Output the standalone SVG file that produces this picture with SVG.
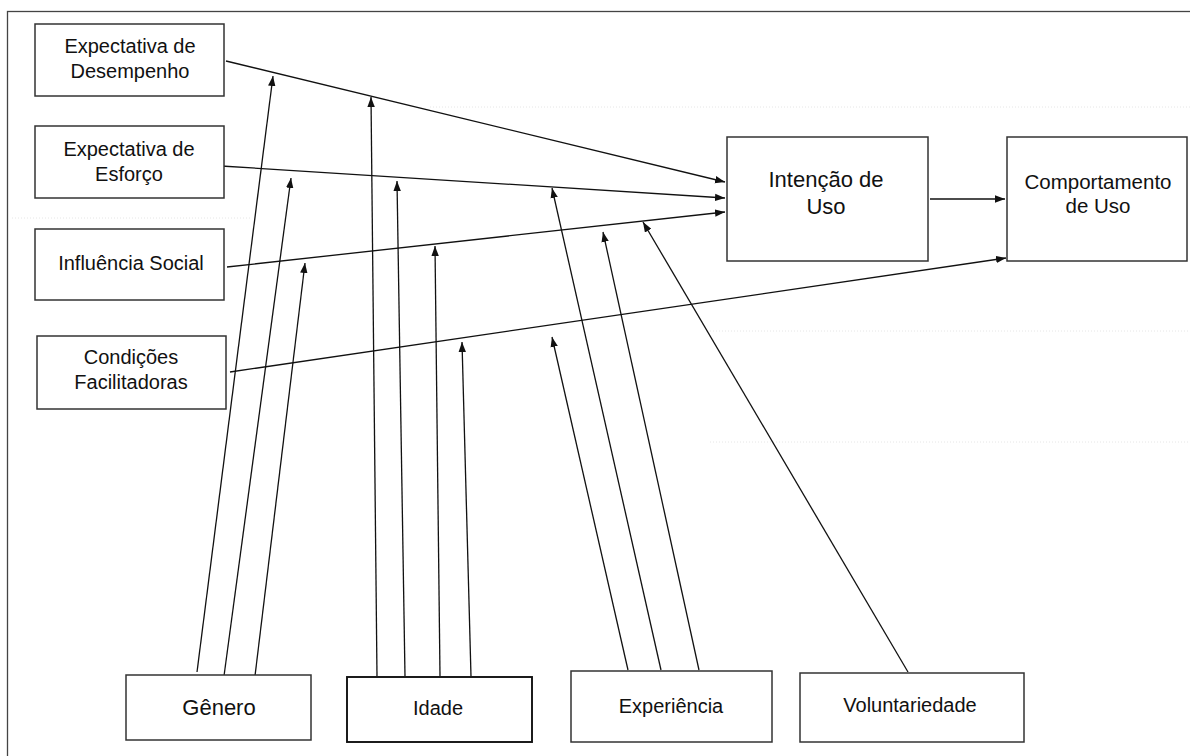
<svg xmlns="http://www.w3.org/2000/svg" width="1190" height="756" viewBox="0 0 1190 756">
<style>
.box{fill:#fff;stroke:#333;stroke-width:1.5}
.t{font-family:"Liberation Sans",Arial,sans-serif;font-size:20px;fill:#111;text-anchor:middle}
.c{fill:none;stroke:#111;stroke-width:1.3}
.grid{stroke:#e6e6e6;stroke-width:1;stroke-dasharray:1 2}
</style>
<defs>
<marker id="ah" markerUnits="userSpaceOnUse" markerWidth="11" markerHeight="8" refX="10" refY="4" orient="auto">
<path d="M0,0.3 L10,4 L0,7.7 Z" fill="#111"/>
</marker>
</defs>
<rect x="0" y="0" width="1190" height="756" fill="#fff"/>
<g id="grid">
<line class="grid" x1="430" y1="107" x2="1190" y2="107"/>
<line class="grid" x1="12" y1="218" x2="250" y2="218"/>
<line class="grid" x1="710" y1="331" x2="1190" y2="331"/>
<line class="grid" x1="710" y1="442" x2="1190" y2="442"/>
</g>
<rect id="frame" x="7.5" y="11.5" width="1200" height="760" fill="none" stroke="#444" stroke-width="1.3"/>

<g id="connectors">
<path class="c" marker-end="url(#ah)" d="M226,61 L725,182"/>
<path class="c" marker-end="url(#ah)" d="M221,166 L725,198"/>
<path class="c" marker-end="url(#ah)" d="M227,267 L725,212"/>
<path class="c" marker-end="url(#ah)" d="M230,372 L1006,258"/>
<path class="c" marker-end="url(#ah)" d="M930,199 L1005,199"/>
<path class="c" marker-end="url(#ah)" d="M197,672 L273,76"/>
<path class="c" marker-end="url(#ah)" d="M224,676 L291,178"/>
<path class="c" marker-end="url(#ah)" d="M255,676 L305,263"/>
<path class="c" marker-end="url(#ah)" d="M377,676 L371,97"/>
<path class="c" marker-end="url(#ah)" d="M405,676 L397,181"/>
<path class="c" marker-end="url(#ah)" d="M440,676 L435,246"/>
<path class="c" marker-end="url(#ah)" d="M471,676 L462,342"/>
<path class="c" marker-end="url(#ah)" d="M628,670 L552,337"/>
<path class="c" marker-end="url(#ah)" d="M661,670 L552,188"/>
<path class="c" marker-end="url(#ah)" d="M699,670 L603,232"/>
<path class="c" marker-end="url(#ah)" d="M908,672 L643,222"/>
</g>

<g id="desempenho">
<rect class="box" x="35" y="24" width="189" height="72"/>
<text class="t" x="130" y="53">Expectativa de</text>
<text class="t" x="130" y="78">Desempenho</text>
</g>
<g id="esforco">
<rect class="box" x="35" y="126" width="189" height="72"/>
<text class="t" x="129" y="156">Expectativa de</text>
<text class="t" x="129" y="181">Esforço</text>
</g>
<g id="influencia">
<rect class="box" x="35" y="229" width="189" height="71"/>
<text class="t" x="131" y="270">Influência Social</text>
</g>
<g id="condicoes">
<rect class="box" x="37" y="336" width="189" height="73"/>
<text class="t" x="131" y="364">Condições</text>
<text class="t" x="131" y="389">Facilitadoras</text>
</g>
<g id="intencao">
<rect class="box" x="727" y="137" width="201" height="124"/>
<text class="t" x="826" y="187" style="font-size:22px">Intenção de</text>
<text class="t" x="826" y="214" style="font-size:22px">Uso</text>
</g>
<g id="comportamento">
<rect class="box" x="1007" y="137" width="180" height="124"/>
<text class="t" x="1098" y="189" style="font-size:20.5px">Comportamento</text>
<text class="t" x="1098" y="213" style="font-size:20.5px">de Uso</text>
</g>
<g id="genero">
<rect class="box" x="126" y="675" width="185" height="65"/>
<text class="t" x="219" y="715" style="font-size:22px">Gênero</text>
</g>
<g id="idade">
<rect class="box" x="347" y="677" width="185" height="65" style="stroke:#111;stroke-width:1.9"/>
<text class="t" x="438" y="715">Idade</text>
</g>
<g id="experiencia">
<rect class="box" x="571" y="671" width="201" height="71"/>
<text class="t" x="671" y="713">Experiência</text>
</g>
<g id="voluntariedade">
<rect class="box" x="800" y="673" width="224" height="69"/>
<text class="t" x="910" y="712">Voluntariedade</text>
</g>
</svg>
